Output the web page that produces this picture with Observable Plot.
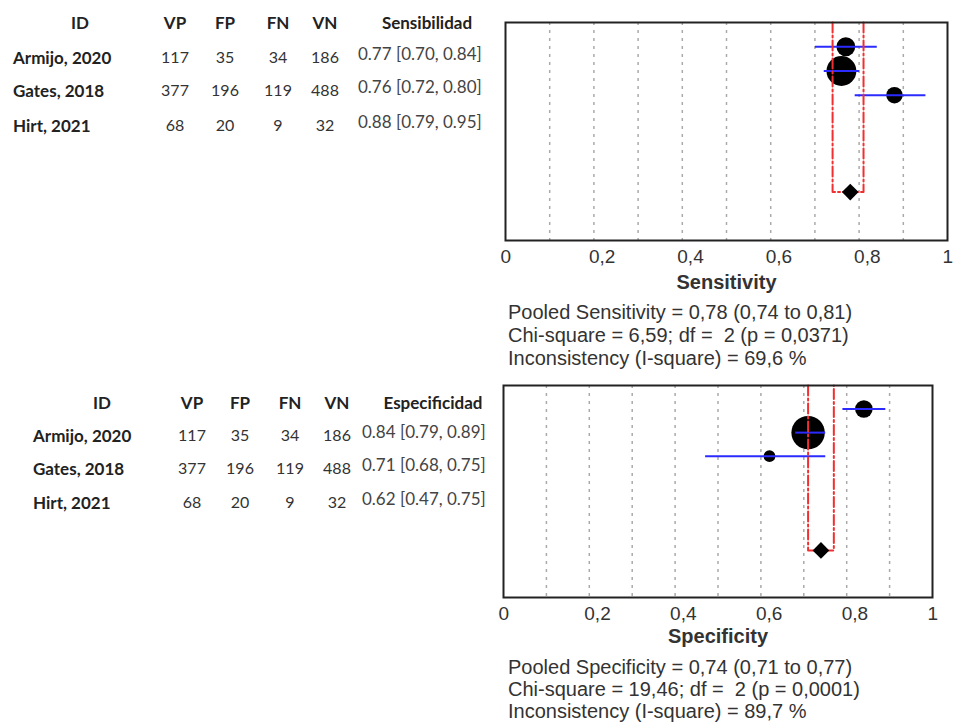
<!DOCTYPE html>
<html><head><meta charset="utf-8">
<script src="https://cdn.jsdelivr.net/npm/d3@7"></script>
<script src="https://cdn.jsdelivr.net/npm/@observablehq/plot@0.6"></script>
<style>
body{margin:0;background:#fff;}
#root{position:relative;width:953px;height:722px;overflow:hidden;background:#fff;}
.t{position:absolute;white-space:pre;line-height:1;}
.tbl{font-family:Lato,"Open Sans",sans-serif;color:#222;font-size:17px;}
.hd{font-weight:bold;}
.nm{font-weight:bold;}
.num{color:#333;font-size:16px;}
.val{color:#444;}
.stats{font-family:"Liberation Sans",Arial,sans-serif;font-size:20px;color:#333;}
.plot{position:absolute;}
</style></head><body><div id="root"></div>
<script>
// ---- data ----
const studyIds = ["Armijo, 2020", "Gates, 2018", "Hirt, 2021"];
const vp = [117, 377, 68];
const fp = [35, 196, 20];
const fn = [34, 119, 9];
const vn = [186, 488, 32];
const sensEst = [0.77, 0.76, 0.88];
const sensLo = [0.70, 0.72, 0.79];
const sensHi = [0.84, 0.80, 0.95];
const specEst = [0.84, 0.71, 0.62];
const specLo = [0.79, 0.68, 0.47];
const specHi = [0.89, 0.75, 0.75];
const pooledSens = [0.78, 0.74, 0.81]; // estimate, lower, upper
const pooledSpec = [0.74, 0.71, 0.77];
const xTicks = [0, 0.2, 0.4, 0.6, 0.8, 1];
const gridTicks = [0.1, 0.2, 0.3, 0.4, 0.5, 0.6, 0.7, 0.8, 0.9];
const tableHeaders = ["ID", "VP", "FP", "FN", "VN"];
const sensStats = [
  "Pooled Sensitivity = 0,78 (0,74 to 0,81)",
  "Chi-square = 6,59; df =  2 (p = 0,0371)",
  "Inconsistency (I-square) = 69,6 %"
];
const specStats = [
  "Pooled Specificity = 0,74 (0,71 to 0,77)",
  "Chi-square = 19,46; df =  2 (p = 0,0001)",
  "Inconsistency (I-square) = 89,7 %"
];

const root = document.getElementById("root");
function addText(txt, cls, x, y, anchor) {
  const el = document.createElement("div");
  el.className = "t " + cls;
  el.textContent = txt;
  el.style.left = x + "px";
  el.style.top = y + "px";
  el.style.transform = anchor === "middle" ? "translate(-50%,-50%)" : "translate(0,-50%)";
  root.appendChild(el);
}
const fmt2 = v => v.toFixed(2);

function makeTable(L) {
  const cols = [vp, fp, fn, vn];
  addText(tableHeaders[0], "tbl hd", L.idX, L.headY, "middle");
  tableHeaders.slice(1).forEach((h, j) => addText(h, "tbl hd", L.colX[j], L.headY, "middle"));
  addText(L.title, "tbl hd", L.titleX, L.headY, "middle");
  studyIds.forEach((id, i) => {
    const y = L.rowY[i];
    addText(id, "tbl nm", L.nameX, y, "start");
    cols.forEach((c, j) => addText(String(c[i]), "tbl num", L.colX[j], y, "middle"));
    addText(`${fmt2(L.est[i])} [${fmt2(L.lo[i])}, ${fmt2(L.hi[i])}]`, "tbl val", L.valX, y - 4, "start");
  });
}

function forest(o) {
  const rows = studyIds.map((id, i) => ({id, est: o.est[i], lo: o.lo[i], hi: o.hi[i], n: o.n[i], row: i + 1}));
  const pRow = rows.length + 4;
  const bracket = [
    {x: o.pooled[1], y: 0}, {x: o.pooled[1], y: pRow},
    {x: o.pooled[2], y: pRow}, {x: o.pooled[2], y: 0}
  ];
  const svg = Plot.plot({
    width: o.width, height: o.height,
    marginLeft: 10, marginRight: 10, marginTop: 4, marginBottom: o.mb,
    x: {domain: [0, 1]},
    y: {domain: [0, 9], reverse: true, axis: null},
    r: {type: "linear", domain: [0, o.rMax], range: o.rRange},
    style: {fontFamily: "'Liberation Sans', Arial, sans-serif", fontSize: "19px", color: "#333", background: "transparent", overflow: "visible"},
    marks: [
      Plot.ruleX(gridTicks, {stroke: "#aaa", strokeDasharray: "3,5", strokeWidth: 1.5}),
      Plot.dot(rows, {x: "est", y: "row", r: "n", fill: "#000"}),
      Plot.link(rows, {x1: "lo", x2: "hi", y1: "row", y2: "row", stroke: "#2b2bff", strokeWidth: 2}),
      Plot.line(bracket, {x: "x", y: "y", stroke: "#f03030", strokeWidth: 2, strokeDasharray: "10,3,2,3"}),
      Plot.dot([o.pooled], {x: d => d[0], y: () => pRow, symbol: "diamond2", r: 7.5, fill: "#000"}),
      Plot.frame({stroke: "#222", strokeWidth: 2}),
      Plot.axisX(xTicks, {tickSize: 0, tickPadding: 9, textAnchor: "start", dx: -5, tickFormat: d => String(d).replace(".", ","), fontSize: 19, fill: "#333", label: null}),
      Plot.text([o.label], {frameAnchor: "bottom", lineAnchor: "middle", dy: o.labelDy, fontWeight: "bold", fontSize: 20, fill: "#333"})
    ]
  });
  svg.classList.add("plot");
  svg.style.left = o.left + "px";
  svg.style.top = o.top + "px";
  root.appendChild(svg);
}

// ---- top: sensitivity ----
makeTable({
  title: "Sensibilidad", est: sensEst, lo: sensLo, hi: sensHi,
  idX: 80, colX: [175, 225, 278, 325], titleX: 427, headY: 22,
  nameX: 13, valX: 358, rowY: [57, 90, 125]
});
forest({
  est: sensEst, lo: sensLo, hi: sensHi, n: vp.map((v, i) => v + fn[i]),
  pooled: pooledSens, label: "Sensitivity", rMax: 500, rRange: [7, 15],
  width: 462, height: 277, mb: 55, left: 495, top: 18, labelDy: 42
});
sensStats.forEach((s, i) => addText(s, "stats", 508, 312 + i * 23, "start"));

// ---- bottom: specificity ----
makeTable({
  title: "Especificidad", est: specEst, lo: specLo, hi: specHi,
  idX: 102, colX: [192, 240, 290, 337], titleX: 433, headY: 402,
  nameX: 33, valX: 362, rowY: [435, 468, 502]
});
forest({
  est: specEst, lo: specLo, hi: specHi, n: fp.map((v, i) => v + vn[i]),
  pooled: pooledSpec, label: "Specificity", rMax: 700, rRange: [5, 17],
  width: 449, height: 271, mb: 55, left: 493, top: 381, labelDy: 39
});
specStats.forEach((s, i) => addText(s, "stats", 508, 667 + i * 22, "start"));
</script></body></html>
